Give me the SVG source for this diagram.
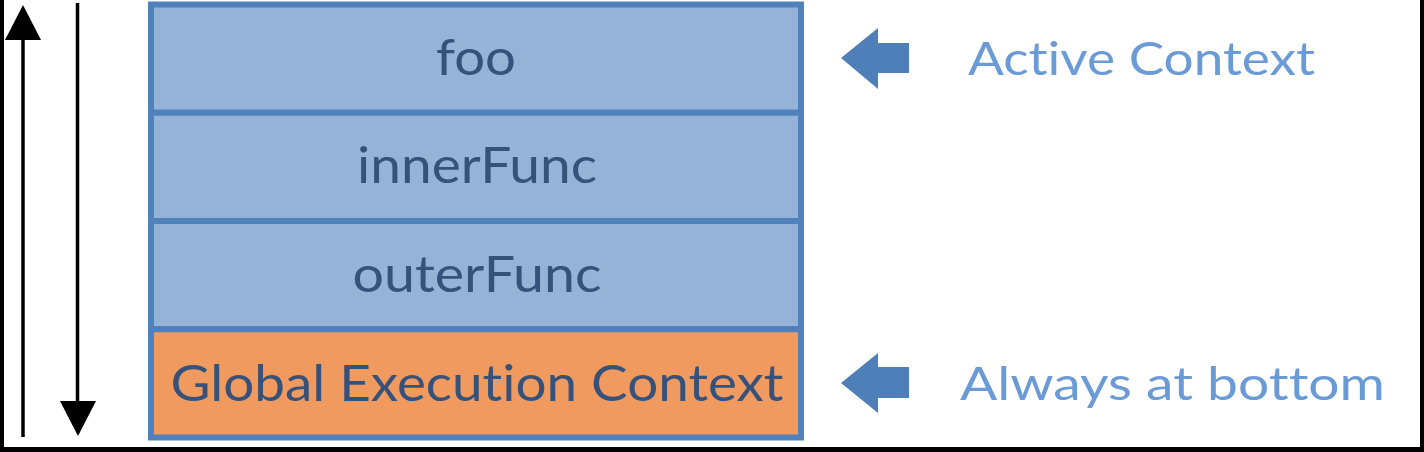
<svg xmlns="http://www.w3.org/2000/svg" width="1424" height="452" viewBox="0 0 1424 452">
  <style>
    .frame { fill: #000000; }
    .box { stroke: #4F81BD; stroke-width: 6; }
    .blue { fill: #95B3D7; }
    .orange { fill: #F09A60; }
    .label { font-family: Lato, "Open Sans", "Liberation Sans", sans-serif; font-size: 51px; fill: #36527A; text-anchor: middle; font-variant-ligatures: none; font-feature-settings: "liga" 0, "clig" 0, "dlig" 0; }
    .note { font-family: Lato, "Open Sans", "Liberation Sans", sans-serif; font-size: 47px; fill: #6B9BD6; font-variant-ligatures: none; font-feature-settings: "liga" 0, "clig" 0, "dlig" 0; }
    .line { stroke: #000000; stroke-width: 3.5; fill: none; }
    .head { fill: #000000; }
    .block { fill: #4F7FB8; }
  </style>
  <rect x="0" y="0" width="1424" height="452" fill="#FFFFFF"/>
  <rect class="frame" x="0" y="0" width="4" height="452"/>
  <rect class="frame" x="1420" y="0" width="4" height="452"/>
  <rect class="frame" x="0" y="447" width="1424" height="5"/>

  <g id="node-foo">
    <rect class="box blue" x="151" y="4.5" width="650" height="108.25"/>
    <text class="label" x="476" y="75" textLength="80" lengthAdjust="spacingAndGlyphs">foo</text>
  </g>
  <g id="node-innerFunc">
    <rect class="box blue" x="151" y="112.75" width="650" height="108.25"/>
    <text class="label" x="477" y="183" textLength="240" lengthAdjust="spacingAndGlyphs">innerFunc</text>
  </g>
  <g id="node-outerFunc">
    <rect class="box blue" x="151" y="221" width="650" height="108.25"/>
    <text class="label" x="477" y="292" textLength="249" lengthAdjust="spacingAndGlyphs">outerFunc</text>
  </g>
  <g id="node-global">
    <rect class="box orange" x="151" y="329.25" width="650" height="108.25"/>
    <text class="label" x="477" y="401" textLength="613" lengthAdjust="spacingAndGlyphs">Global Execution Context</text>
  </g>
  <g id="note-active">
    <text class="note" x="968" y="75" textLength="347" lengthAdjust="spacingAndGlyphs">Active Context</text>
  </g>
  <g id="note-bottom">
    <text class="note" x="960" y="400" textLength="425" lengthAdjust="spacingAndGlyphs">Always at bottom</text>
  </g>

  <g id="connectors">
    <line class="line" x1="23" y1="40" x2="23" y2="437"/>
    <polygon class="head" points="5,40 41,40 23,5"/>
    <line class="line" x1="77.5" y1="3" x2="77.5" y2="401"/>
    <polygon class="head" points="60,401 96,401 78,436"/>
    <polygon class="block" points="841,58 878,28 878,43 909,43 909,73 878,73 878,89"/>
    <polygon class="block" points="841,383 878,353 878,367 909,367 909,398 878,398 878,413"/>
  </g>
</svg>
